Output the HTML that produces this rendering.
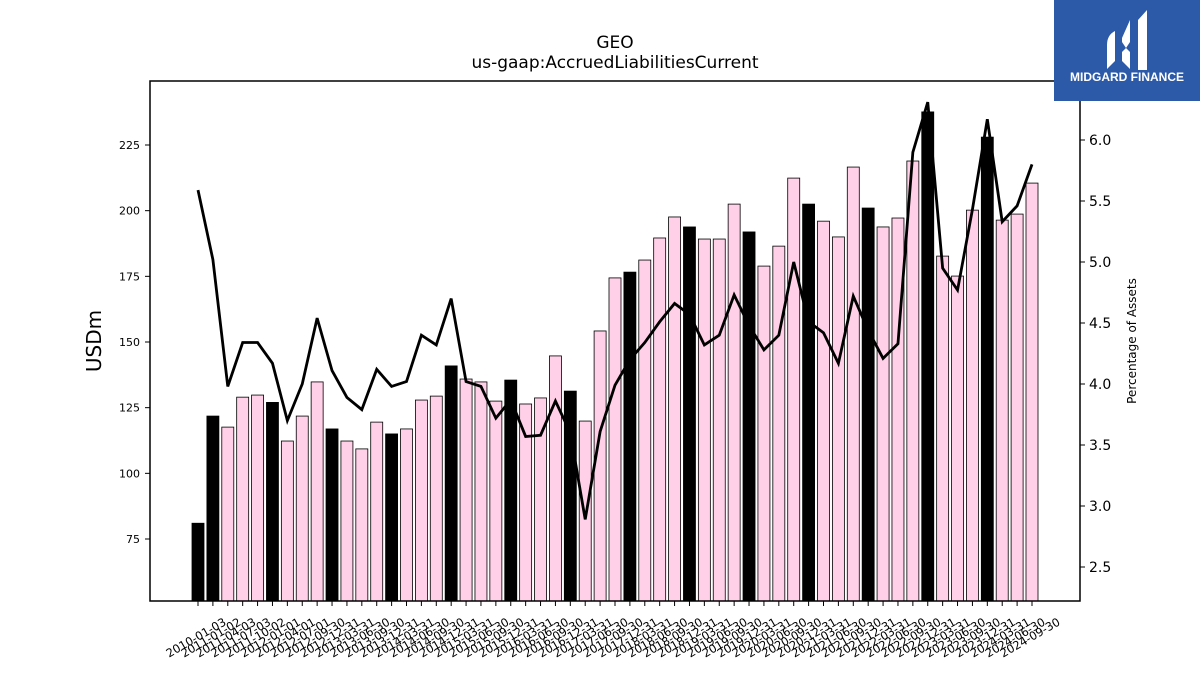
<!DOCTYPE html>
<html><head><meta charset="utf-8"><style>
body{margin:0;background:#fff;width:1200px;height:675px;overflow:hidden;font-family:"Liberation Sans","DejaVu Sans",sans-serif}
</style></head><body>
<svg id="c" width="1200" height="675" xmlns="http://www.w3.org/2000/svg" style="font-family:'DejaVu Sans','Liberation Sans',sans-serif">
<text x="615" y="48" text-anchor="middle" font-size="17">GEO</text>
<text x="615" y="68" text-anchor="middle" font-size="17">us-gaap:AccruedLiabilitiesCurrent</text>
<g id="bars"></g><g id="line"></g><g id="axes"></g>
<rect x="150" y="81" width="930" height="520" fill="none" stroke="#000" stroke-width="1.5"/>
<text transform="translate(101,341) rotate(-90)" text-anchor="middle" font-size="20">USDm</text>
<text transform="translate(1136,341) rotate(-90)" text-anchor="middle" font-size="12">Percentage of Assets</text>
<g>
<rect x="1054" y="0" width="146" height="101" fill="#2c5aa8"/>
<path d="M1107 45 q0-10 8-14 v30 l-8 8z M1122 38 l8-18 v22 l-4 6 l-4-6z M1122 52 l4-4 l4 4 v17 l-8-8z M1138 20 l9-10 v60 h-9z" fill="#fff"/>
<text x="1127" y="81" text-anchor="middle" font-size="12" font-weight="bold" fill="#fff" font-family="Liberation Sans,sans-serif">MIDGARD FINANCE</text>
</g>
</svg>
<script>
const labels=["2010-01-03","2011-01-02","2011-04-03","2011-07-03","2011-10-02","2012-01-01","2012-04-01","2012-07-01","2012-09-30","2012-12-31","2013-03-31","2013-06-30","2013-09-30","2013-12-31","2014-03-31","2014-06-30","2014-09-30","2014-12-31","2015-03-31","2015-06-30","2015-09-30","2015-12-31","2016-03-31","2016-06-30","2016-09-30","2016-12-31","2017-03-31","2017-06-30","2017-09-30","2017-12-31","2018-03-31","2018-06-30","2018-09-30","2018-12-31","2019-03-31","2019-06-30","2019-09-30","2019-12-31","2020-03-31","2020-06-30","2020-09-30","2020-12-31","2021-03-31","2021-06-30","2021-09-30","2021-12-31","2022-03-31","2022-06-30","2022-09-30","2022-12-31","2023-03-31","2023-06-30","2023-09-30","2023-12-31","2024-03-31","2024-06-30","2024-09-30"];
const values=[81,121.8,117.6,129,129.8,127,112.3,121.8,134.8,116.9,112.3,109.3,119.5,115,116.9,127.9,129.4,140.9,135.9,134.8,127.5,135.5,126.4,128.7,144.7,131.3,119.9,154.2,174.4,176.6,181.2,189.6,197.6,193.8,189.2,189.2,202.5,191.9,178.9,186.5,212.4,202.5,196,190,216.6,201,193.8,197.2,218.9,237.6,182.7,175.1,200.2,228,196.4,198.7,210.5];
const pct=[5.59,5.02,3.98,4.34,4.34,4.17,3.70,4.0,4.54,4.11,3.89,3.79,4.12,3.98,4.02,4.40,4.32,4.70,4.02,3.98,3.72,3.87,3.57,3.58,3.86,3.60,2.89,3.61,3.99,4.20,4.34,4.51,4.66,4.57,4.32,4.40,4.73,4.48,4.28,4.40,5.0,4.51,4.42,4.17,4.72,4.44,4.21,4.33,5.90,6.31,4.95,4.77,5.43,6.17,5.33,5.46,5.80];
const leftTicks=[75,100,125,150,175,200,225];
const rightTicks=[2.5,3.0,3.5,4.0,4.5,5.0,5.5,6.0];
const NS="http://www.w3.org/2000/svg";
const X0=150,X1=1080,Y0=81,Y1=601;
const yL=v=>539-(v-75)*(394/150);
const yR=p=>140-(p-6)*122;
const step=(1032-198)/(labels.length-1);
const xI=i=>198+i*step;
function mk(t,a,p){const e=document.createElementNS(NS,t);for(const k in a)e.setAttribute(k,a[k]);p.appendChild(e);return e;}
const gb=document.getElementById('bars'),gl=document.getElementById('line'),ga=document.getElementById('axes');
values.forEach((v,i)=>{
 const annual=(i===0)||(i%4===1);
 const r=mk('rect',{x:xI(i)-6,y:yL(v),width:12,height:Y1-yL(v),fill:annual?'#000':'#ffd0e8',stroke:'#000','stroke-width':0.8},gb);
 
 
 mk('line',{x1:xI(i),x2:xI(i),y1:Y1,y2:Y1+5,stroke:'#000'},ga);
 const tx=mk('text',{x:0,y:0,'font-size':11.5,'text-anchor':'middle',transform:`translate(${xI(i)},${Y1+40}) rotate(-30)`},ga);
 tx.textContent=labels[i];
 
 
});
const pl=mk('polyline',{points:pct.map((p,i)=>xI(i)+','+yR(p)).join(' '),fill:'none',stroke:'#000','stroke-width':2.8},gl);


leftTicks.forEach(v=>{
 mk('line',{x1:X0-5,x2:X0,y1:yL(v),y2:yL(v),stroke:'#000'},ga);
 const t=mk('text',{x:X0-10,y:yL(v)+4,'font-size':11,'text-anchor':'end'},ga);t.textContent=v;
 
 
});
rightTicks.forEach(p=>{
 mk('line',{x1:X1,x2:X1+5,y1:yR(p),y2:yR(p),stroke:'#000'},ga);
 const t=mk('text',{x:X1+9,y:yR(p)+5,'font-size':14},ga);t.textContent=p.toFixed(1);
 
 
});
</script>
</body></html>
